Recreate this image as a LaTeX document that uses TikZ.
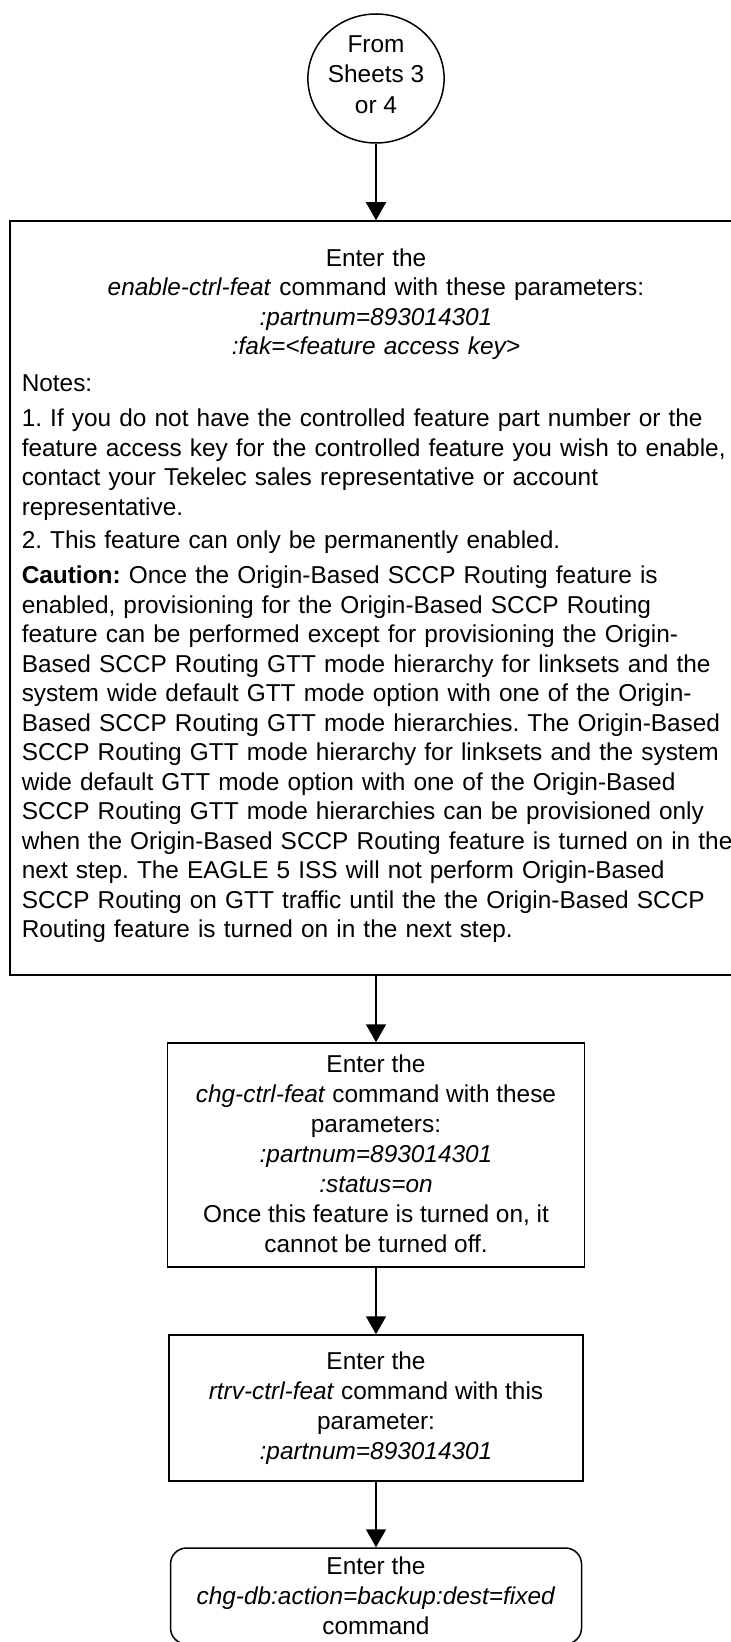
\documentclass[tikz,border=0pt]{standalone}
\usepackage{fontspec}
\setmainfont[Ligatures=NoCommon]{Liberation Sans}
\usetikzlibrary{shapes.geometric,arrows.meta}
\frenchspacing
\begin{document}
\begin{tikzpicture}[x=0.5pt,y=-0.5pt,
  line width=0.75pt,
  txt/.style={font={\fontsize{12.2}{14.75}\selectfont\frenchspacing}},
  boxtxt/.style={font={\fontsize{12.2}{15}\selectfont\frenchspacing}},
  stepbox/.style={draw, rectangle, inner sep=0pt, align=center, boxtxt},
  para/.style={txt, inner sep=0pt, anchor=base west, text width=360pt, align=left},
  arr/.style={-{Triangle[length=9pt,width=10pt]}},
]
\useasboundingbox (0,0) rectangle (731,1642);
\fill[white] (0,0) rectangle (731,1642);

% start connector
\node[draw, ellipse, minimum width=68pt, minimum height=64.5pt, inner sep=0pt,
      align=center, text depth=4pt, font={\fontsize{12.2}{15.25}\selectfont}] (start) at (376,78.5)
  {From\\Sheets 3\\or 4};

% big step box
\node[draw, rectangle, minimum width=366pt, minimum height=377pt, inner sep=0pt] (enable) at (376,598) {};
\node[txt, inner sep=0pt, anchor=base, text width=350pt, align=center] (title) at (376,266.5)
  {Enter the\\
   \textit{enable-ctrl-feat} command with these parameters:\\
   \textit{:partnum=893014301}\\
   \textit{:fak=<feature access key>}};
\node[txt, inner sep=0pt, anchor=base west] (notes) at (21,391.5) {Notes:};
\node[para] (note1) at (21,426.5)
  {1. If you do not have the controlled feature part number or the\\
   feature access key for the controlled feature you wish to enable,\\
   contact your Tekelec sales representative or account\\
   representative.};
\node[para] (note2) at (21,548.5) {2. This feature can only be permanently enabled.};
\node[para] (caution) at (21,583.5)
  {\textbf{Caution:} Once the Origin-Based SCCP Routing feature is\\
   enabled, provisioning for the Origin-Based SCCP Routing\\
   feature can be performed except for provisioning the Origin-\\
   Based SCCP Routing GTT mode hierarchy for linksets and the\\
   system wide default GTT mode option with one of the Origin-\\
   Based SCCP Routing GTT mode hierarchies. The Origin-Based\\
   SCCP Routing GTT mode hierarchy for linksets and the system\\
   wide default GTT mode option with one of the Origin-Based\\
   SCCP Routing GTT mode hierarchies can be provisioned only\\
   when the Origin-Based SCCP Routing feature is turned on in the\\
   next step. The EAGLE 5 ISS will not perform Origin-Based\\
   SCCP Routing on GTT traffic until the the Origin-Based SCCP\\
   Routing feature is turned on in the next step.};

% chg-ctrl-feat box
\node[stepbox, text depth=1.5pt, minimum width=208.5pt, minimum height=112pt] (chg) at (376,1155)
  {Enter the\\
   \textit{chg-ctrl-feat} command with these\\
   parameters:\\
   \textit{:partnum=893014301}\\
   \textit{:status=on}\\
   Once this feature is turned on, it\\
   cannot be turned off.};

% rtrv-ctrl-feat box
\node[stepbox, minimum width=207pt, minimum height=73pt] (rtrv) at (376,1408)
  {Enter the\\
   \textit{rtrv-ctrl-feat} command with this\\
   parameter:\\
   \textit{:partnum=893014301}};

% backup box
\node[stepbox, rounded corners=8pt, minimum width=205.5pt, minimum height=48pt] (backup) at (376,1596)
  {Enter the\\
   \textit{chg-db:action=backup:dest=fixed}\\
   command};

\draw[arr] (start) -- (enable);
\draw[arr] (enable) -- (chg);
\draw[arr] (chg) -- (rtrv);
\draw[arr] (rtrv) -- (backup);
\end{tikzpicture}
\end{document}
